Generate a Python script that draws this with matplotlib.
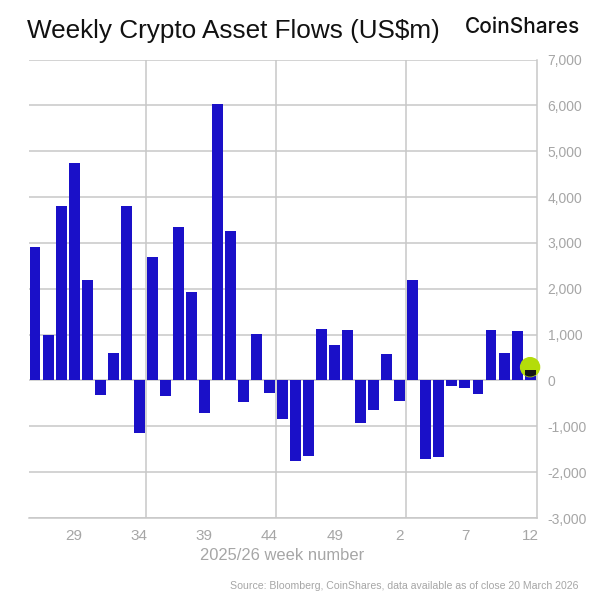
import matplotlib
matplotlib.use('agg')
import matplotlib.pyplot as plt
from matplotlib.patches import Ellipse

# weeks 26..52 of 2025 then 1..12 of 2026
weeks = list(range(26, 53)) + list(range(1, 13))
flows = [2900, 1000, 3800, 4750, 2200, -320, 600, 3800, -1150, 2700,
         -340, 3350, 1930, -700, 6030, 3250, -480, 1020, -280, -850,
         -1750, -1650, 1120, 780, 1090, -920, -640, 580, -450, 2190,
         -1720, -1680, -130, -170, -300, 1090, 600, 1080, 220]
y_ticks = [-3000, -2000, -1000, 0, 1000, 2000, 3000, 4000, 5000, 6000, 7000]
latest_dot = 290
label_every = 5

plt.rcParams['font.family'] = ['Liberation Sans', 'DejaVu Sans']
grey = '#a6a6a6'
line = '#c8c8c8'

fig = plt.figure(figsize=(6, 6), dpi=100)
ax = fig.add_axes([28.5 / 600, 1 - 518 / 600, (536.6 - 28.5) / 600, (518 - 59.5) / 600])

pos = list(range(1, len(flows) + 1))
ax.bar(pos, flows, width=0.84, color='#1a10c8', zorder=3)

ax.set_xlim(0.5, len(flows) + 0.5)
ax.set_ylim(-3000, 7000)

# horizontal grid + every 10 bars a vertical line
ax.yaxis.tick_right()
ax.set_yticks(y_ticks)
ax.set_yticklabels([f'{v:,}' for v in y_ticks], fontsize=10)
ax.tick_params(axis='y', length=0, pad=8, labelcolor=grey)
ax.grid(axis='y', color=line, lw=1.1, zorder=1)
for vx in [9.5, 19.5, 29.5]:
    ax.axvline(vx, color=line, lw=1.1, zorder=1)

tick_pos = pos[3::label_every]
ax.set_xticks(tick_pos)
ax.set_xticklabels([str(weeks[i - 1]) for i in tick_pos], fontsize=11)
ax.tick_params(axis='x', length=0, pad=8, labelcolor=grey)

for s in ['top', 'left']:
    ax.spines[s].set_visible(False)
for s in ['right', 'bottom']:
    ax.spines[s].set_color(line)
    ax.spines[s].set_linewidth(1.1)

# green marker for latest week, bar goes black where they overlap
w = 19 * 39 / 508.1
h = 19 * 10000 / 458.5
dot = Ellipse((pos[-1], latest_dot), w, h, color='#b4dc0a', zorder=4, clip_on=False)
ax.add_patch(dot)
over = ax.bar(pos[-1], flows[-1], width=0.84, color='#141414', zorder=5)
over[0].set_clip_path(Ellipse((pos[-1], latest_dot), w, h, transform=ax.transData))

fig.text(27 / 600, 1 - 31 / 600, 'Weekly Crypto Asset Flows (US$m)', fontsize=18.8,
         color='#111111', va='center', ha='left')
fig.text(580 / 600, 1 - 27 / 600, 'CoinShares', fontsize=15, color='#111111',
         va='center', ha='right', family=['Inter', 'DejaVu Sans'], weight='medium')
fig.text(282 / 600, 1 - 556 / 600, '2025/26 week number', fontsize=11.9, color=grey,
         va='center', ha='center')
fig.text(578 / 600, 1 - 586 / 600, 'Source: Bloomberg, CoinShares, data available as of close 20 March 2026',
         fontsize=7.55, color=grey, va='center', ha='right')

plt.savefig('out.png', dpi=100)
plt.close()
